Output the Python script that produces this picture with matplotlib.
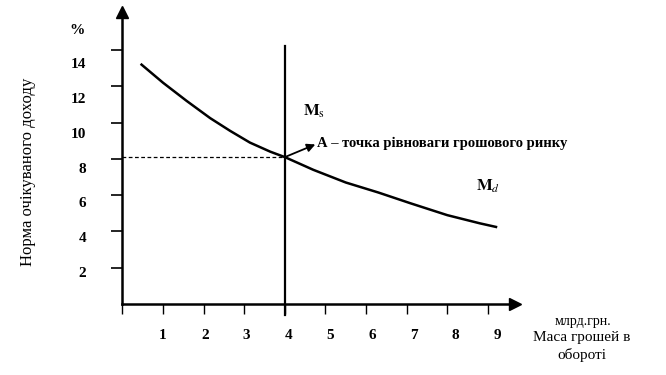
import matplotlib
matplotlib.use("Agg")
import matplotlib.pyplot as plt
from matplotlib.transforms import ScaledTranslation

plt.rcParams["font.family"] = ["Liberation Serif", "DejaVu Serif"]
plt.rcParams["mathtext.fontset"] = "stix"

# money demand curve Md: mass of money (bn UAH) vs expected yield (%)
md_mass = [0.47, 1.0, 1.58, 2.16, 2.65, 3.14, 3.64, 4.0, 4.7, 5.5, 6.3, 7.1, 8.0, 8.8, 9.2]
md_rate = [13.2, 12.2, 11.2, 10.25, 9.55, 8.9, 8.4, 8.1, 7.4, 6.7, 6.15, 5.55, 4.9, 4.45, 4.25]

# money supply Ms (vertical line) and equilibrium point A
ms_mass = 4.0
ms_top = 14.2
eq_rate = 8.1

x_ticks = [0, 1, 2, 3, 4, 5, 6, 7, 8, 9]
x_labels = ["", "1", "2", "3", "4", "5", "6", "7", "8", "9"]
y_ticks = [2, 4, 6, 8, 10, 12, 14]
y_labels = ["2", "4", "6", "8", "10", "12", "14"]

fig = plt.figure(figsize=(6.66, 3.75), dpi=100)
ax = fig.add_axes([0.1839, 0.1893, 0.5895, 0.7786])
ax.set_xlim(0, 9.67)
ax.set_ylim(0, 16.1)

for side in ("top", "right"):
    ax.spines[side].set_visible(False)
for side in ("left", "bottom"):
    ax.spines[side].set_linewidth(1.8)

# axis arrowheads
ax.plot(1, 0, ">k", ms=8.5, transform=ax.transAxes, clip_on=False)
ax.plot(0, 1, "^k", ms=8.5, transform=ax.transAxes, clip_on=False)

ax.set_xticks(x_ticks)
ax.set_xticklabels(x_labels, fontsize=11, fontweight="bold")
ax.set_yticks(y_ticks)
ax.set_yticklabels(y_labels, fontsize=11, fontweight="bold")
ax.tick_params(axis="x", direction="out", length=7, width=1.0, pad=11)
ax.tick_params(axis="y", direction="out", length=8, width=1.2, pad=18)

# scanned labels drift a little off their ticks
for i, lbl in enumerate(ax.get_xticklabels()):
    dx = 1.2 * max(i - 1, 0) / 100
    lbl.set_transform(lbl.get_transform() + ScaledTranslation(dx, 0, fig.dpi_scale_trans))
for i, lbl in enumerate(ax.get_yticklabels()):
    dy = -(4 + 1.55 * i) / 100
    lbl.set_transform(lbl.get_transform() + ScaledTranslation(0, dy, fig.dpi_scale_trans))

# curves
ax.plot(md_mass, md_rate, color="black", lw=1.8, clip_on=False, solid_joinstyle="round")
ax.plot([ms_mass, ms_mass], [-0.6, ms_top], color="black", lw=1.6, clip_on=False)
ax.plot([0, ms_mass], [eq_rate, eq_rate], color="black", lw=0.9, ls=(0, (3, 2)))

ax.annotate("", xy=(4.75, 8.8), xytext=(ms_mass, eq_rate),
            arrowprops=dict(arrowstyle="-|>", color="black", lw=1.3,
                            mutation_scale=12, shrinkA=0, shrinkB=0))
ax.text(4.78, 8.85, "А – точка рівноваги грошового ринку", fontsize=10.5,
        ha="left", va="center", fontweight="bold")
ax.text(4.45, 10.6, r"$\mathbf{M_{\mathrm{s}}}$", fontsize=12, ha="left", va="center")
ax.text(8.7, 6.5, r"$\mathbf{M_{\mathit{d}}}$", fontsize=12, ha="left", va="center")

# axis titles
ax.text(-1.12, 15.1, "%", fontsize=11, fontweight="bold", ha="center", va="center",
        clip_on=False)
fig.text(28 / 666, 1 - 172 / 375, "Норма очікуваного доходу", rotation=90,
         fontsize=12, ha="center", va="center")
fig.text(583 / 666, 1 - 321 / 375, "млрд.грн.", fontsize=10, ha="center", va="center")
fig.text(582 / 666, 1 - 337 / 375, "Маса грошей в", fontsize=11, ha="center", va="center")
fig.text(582 / 666, 1 - 355 / 375, "обороті", fontsize=11, ha="center", va="center")

fig.savefig("out.png", dpi=100)
